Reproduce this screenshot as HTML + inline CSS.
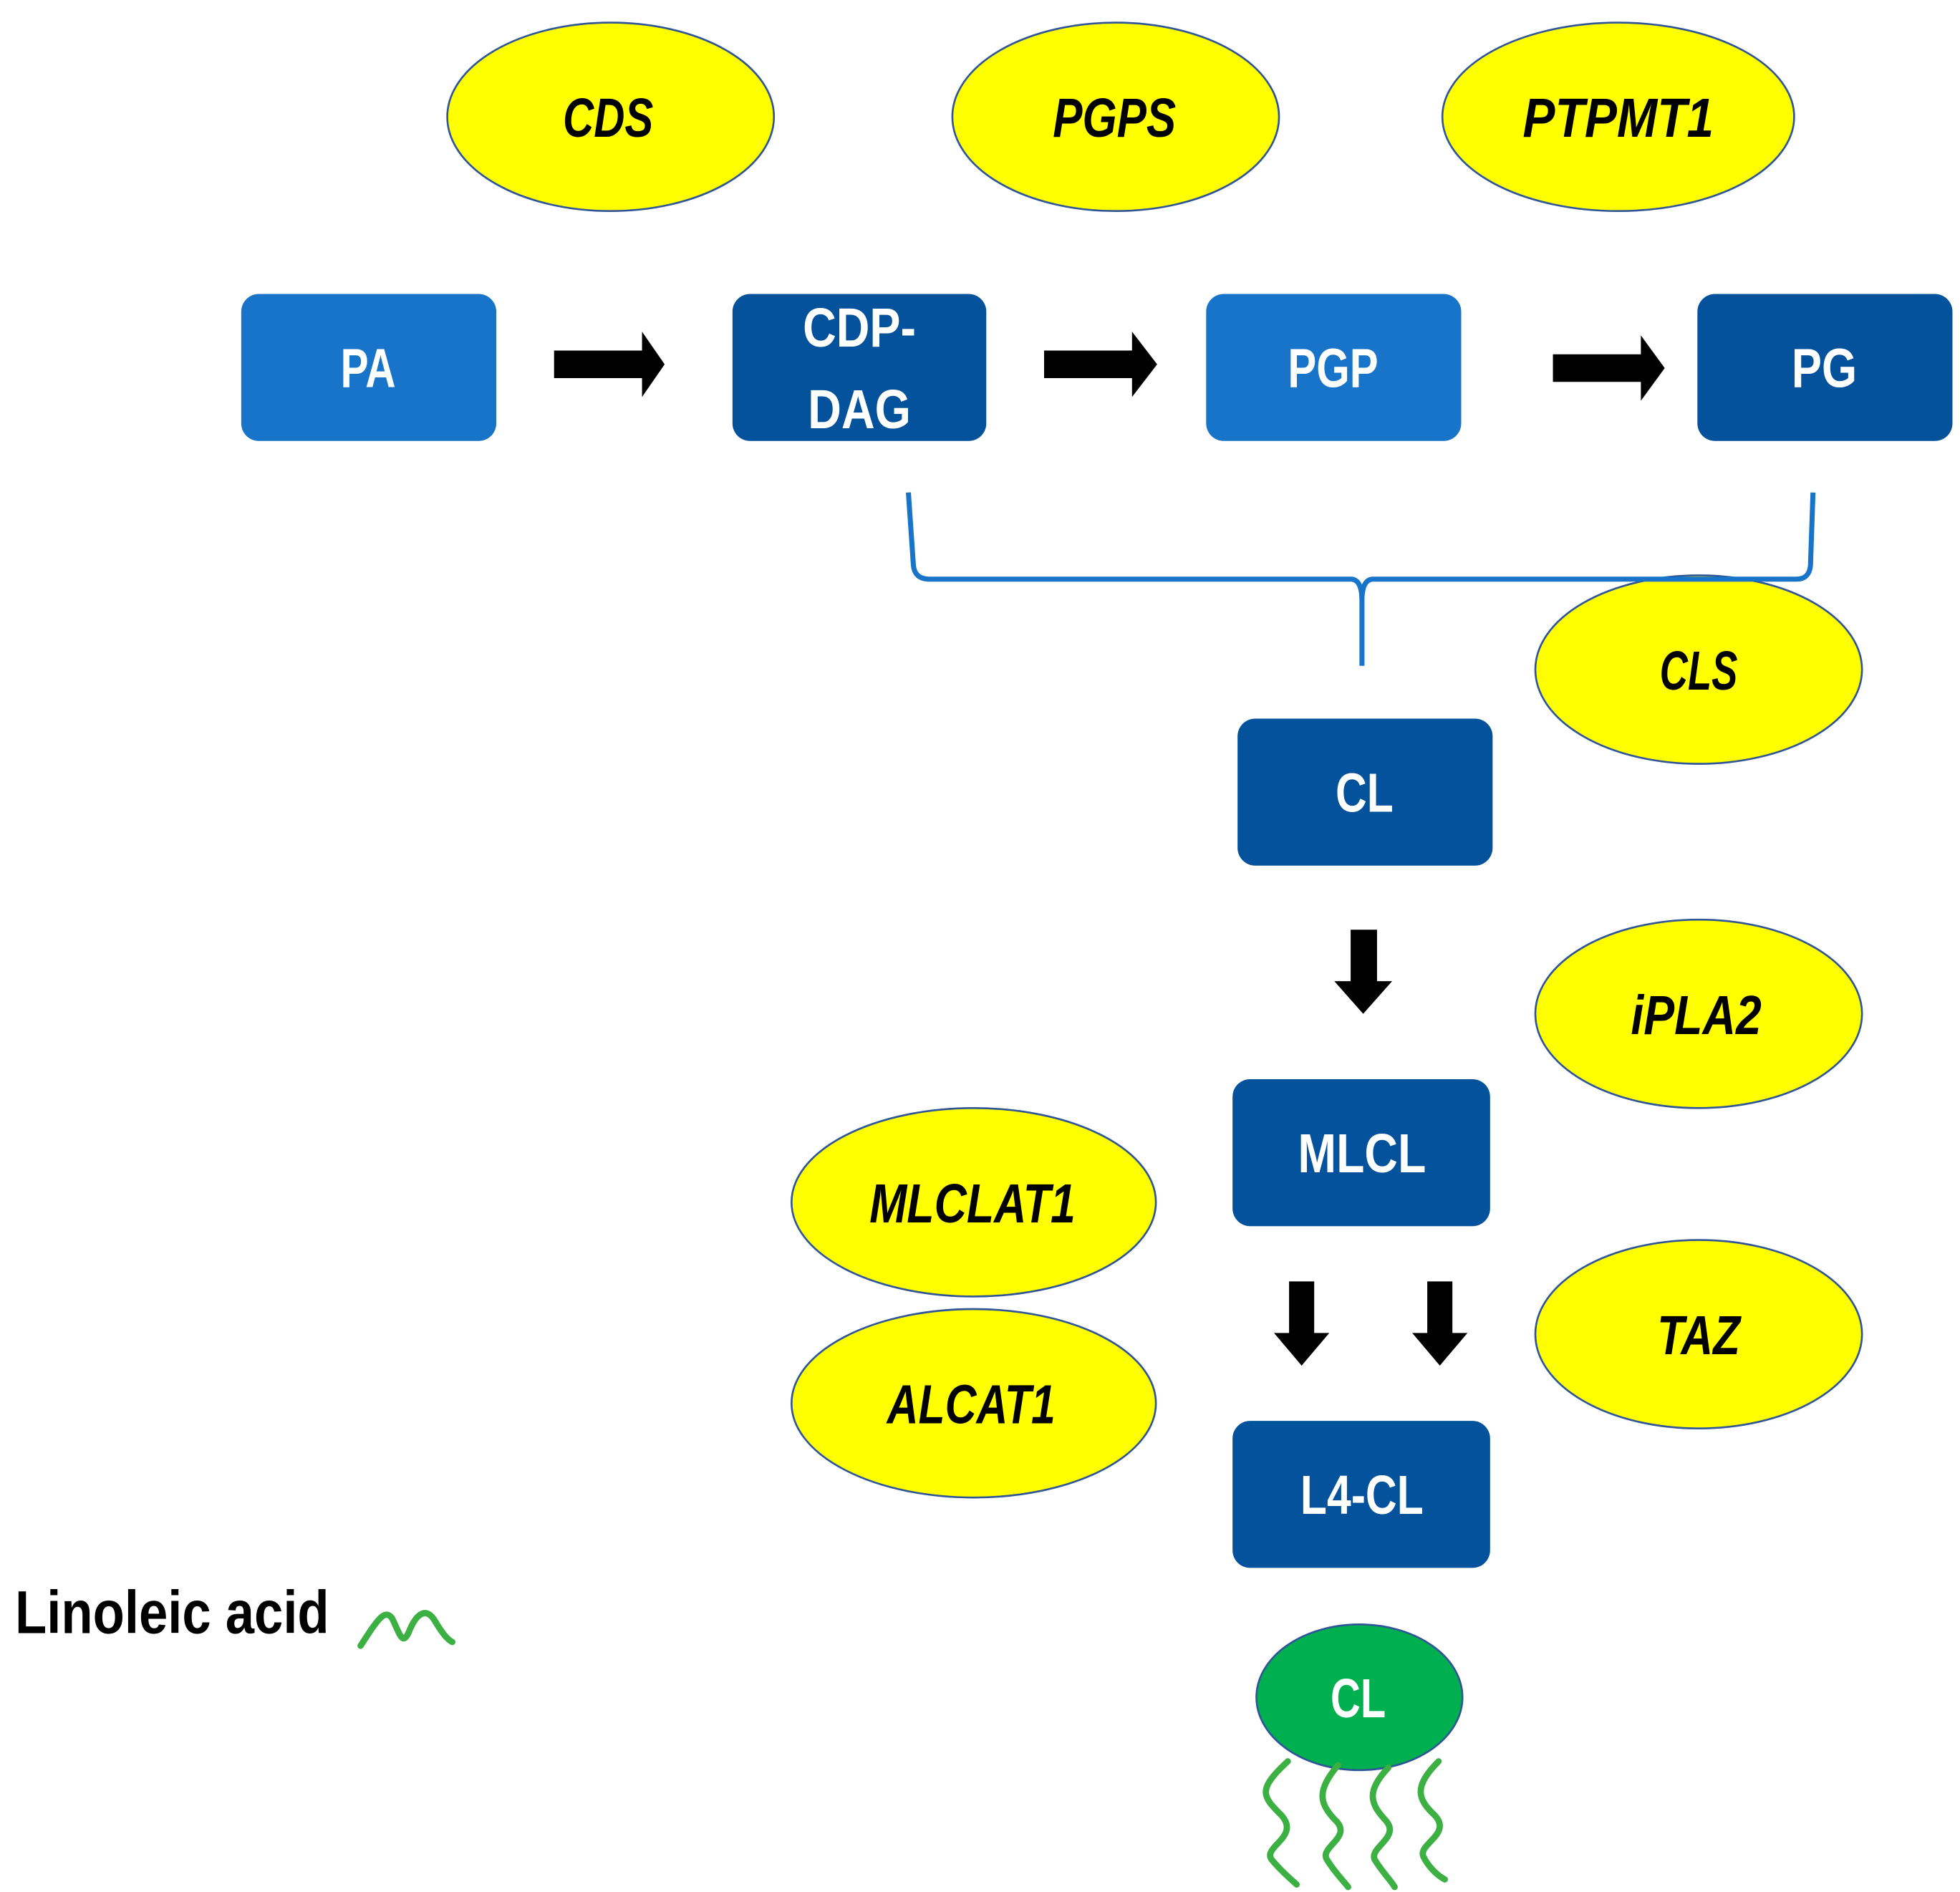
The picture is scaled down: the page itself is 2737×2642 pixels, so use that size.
<!DOCTYPE html>
<html><head><meta charset="utf-8"><style>
html,body{margin:0;padding:0;background:#fff;}
svg{display:block;}
text{font-family:"Liberation Sans",sans-serif;}
.e{fill:#ffff00;stroke:#2f5597;stroke-width:1.5;}
.et{font-weight:bold;font-style:italic;font-size:44px;fill:#000;text-anchor:middle;}
.bt{font-size:44px;font-weight:bold;fill:#fff;text-anchor:middle;}
.l{fill:#1874c8;}
.d{fill:#03529b;}
.g{fill:none;stroke:#3cb043;stroke-width:5;stroke-linecap:round;stroke-linejoin:round;}
</style></head><body>
<svg width="2737" height="2642" viewBox="0 0 1560 1506" preserveAspectRatio="none" xmlns="http://www.w3.org/2000/svg">
<ellipse class="e" cx="486" cy="93" rx="130" ry="75"/>
<text class="et" x="484" y="109" textLength="72" lengthAdjust="spacingAndGlyphs">CDS</text>
<ellipse class="e" cx="888" cy="93" rx="130" ry="75"/>
<text class="et" x="887" y="109" textLength="98" lengthAdjust="spacingAndGlyphs">PGPS</text>
<ellipse class="e" cx="1288" cy="93" rx="140" ry="75"/>
<text class="et" x="1288" y="109" textLength="152" lengthAdjust="spacingAndGlyphs">PTPMT1</text>
<ellipse class="e" cx="1352" cy="533" rx="130" ry="75"/>
<text class="et" x="1352" y="549" textLength="62" lengthAdjust="spacingAndGlyphs">CLS</text>
<ellipse class="e" cx="1352" cy="807" rx="130" ry="75"/>
<text class="et" x="1350" y="823" textLength="104" lengthAdjust="spacingAndGlyphs">iPLA2</text>
<ellipse class="e" cx="775" cy="957" rx="145" ry="75"/>
<text class="et" x="774" y="973" textLength="164" lengthAdjust="spacingAndGlyphs">MLCLAT1</text>
<ellipse class="e" cx="775" cy="1117" rx="145" ry="75"/>
<text class="et" x="773" y="1133" textLength="134" lengthAdjust="spacingAndGlyphs">ALCAT1</text>
<ellipse class="e" cx="1352" cy="1062" rx="130" ry="75"/>
<text class="et" x="1352" y="1078" textLength="66" lengthAdjust="spacingAndGlyphs">TAZ</text>
<rect class="l" x="192" y="234" width="203" height="117" rx="14"/>
<text class="bt" x="293" y="308" textLength="44" lengthAdjust="spacingAndGlyphs">PA</text>
<rect class="d" x="583" y="234" width="202" height="117" rx="14"/>
<text class="bt" x="684" y="276" textLength="90" lengthAdjust="spacingAndGlyphs">CDP-</text>
<text class="bt" x="684" y="341" textLength="82" lengthAdjust="spacingAndGlyphs">DAG</text>
<rect class="l" x="960" y="234" width="203" height="117" rx="14"/>
<text class="bt" x="1061" y="308" textLength="72" lengthAdjust="spacingAndGlyphs">PGP</text>
<rect class="d" x="1351" y="234" width="203" height="117" rx="14"/>
<text class="bt" x="1452" y="308" textLength="52" lengthAdjust="spacingAndGlyphs">PG</text>
<rect class="d" x="985" y="572" width="203" height="117" rx="14"/>
<text class="bt" x="1086" y="646" textLength="46" lengthAdjust="spacingAndGlyphs">CL</text>
<rect class="d" x="981" y="859" width="205" height="117" rx="14"/>
<text class="bt" x="1084" y="933" textLength="102" lengthAdjust="spacingAndGlyphs">MLCL</text>
<rect class="d" x="981" y="1131" width="205" height="117" rx="14"/>
<text class="bt" x="1084" y="1205" textLength="98" lengthAdjust="spacingAndGlyphs">L4-CL</text>
<polygon fill="#000" points="441,279 511,279 511,264 529,290 511,316 511,301 441,301"/>
<polygon fill="#000" points="831,279 901,279 901,264 921,290 901,316 901,301 831,301"/>
<polygon fill="#000" points="1236,282 1306,282 1306,267 1325,293 1306,319 1306,304 1236,304"/>
<polygon fill="#000" points="1075,740 1096,740 1096,781 1108,781 1085,807 1062,781 1075,781"/>
<polygon fill="#000" points="1026,1020 1046,1020 1046,1061 1058,1061 1036,1087 1014,1061 1026,1061"/>
<polygon fill="#000" points="1136,1020 1156,1020 1156,1061 1168,1061 1146,1087 1124,1061 1136,1061"/>
<path d="M723,392 L727,450 Q728,461 740,461 L1076,461 Q1084,462 1084,478 L1084,530 M1084,478 Q1084,462 1092,461 L1430,461 Q1440,461 1441,450 L1443,392" fill="none" stroke="#1874c8" stroke-width="4"/>
<ellipse cx="1082" cy="1351" rx="82" ry="58" fill="#00b050" stroke="#2f5597" stroke-width="1.5"/>
<text class="bt" x="1081" y="1367" textLength="44" lengthAdjust="spacingAndGlyphs">CL</text>
<path class="g" d="M1025,1402 C1000,1425 1005,1430 1020,1445 C1035,1462 1005,1470 1012,1480 C1020,1490 1030,1498 1032,1500"/>
<path class="g" d="M1065,1405 C1048,1425 1050,1435 1062,1448 C1078,1462 1050,1470 1056,1480 C1062,1490 1070,1498 1073,1502"/>
<path class="g" d="M1105,1407 C1088,1425 1090,1435 1102,1448 C1116,1462 1090,1470 1094,1480 C1100,1490 1108,1498 1110,1502"/>
<path class="g" d="M1145,1402 C1125,1422 1128,1432 1142,1445 C1156,1460 1128,1468 1133,1478 C1138,1488 1146,1494 1150,1496"/>
<text x="12" y="1300" font-size="48" font-weight="bold" fill="#000" textLength="250" lengthAdjust="spacingAndGlyphs">Linoleic acid</text>
<path class="g" d="M287,1310 C300,1290 306,1280 312,1288 C318,1300 320,1310 325,1300 C332,1282 340,1280 346,1290 C352,1300 356,1305 360,1307"/>
</svg>
</body></html>
